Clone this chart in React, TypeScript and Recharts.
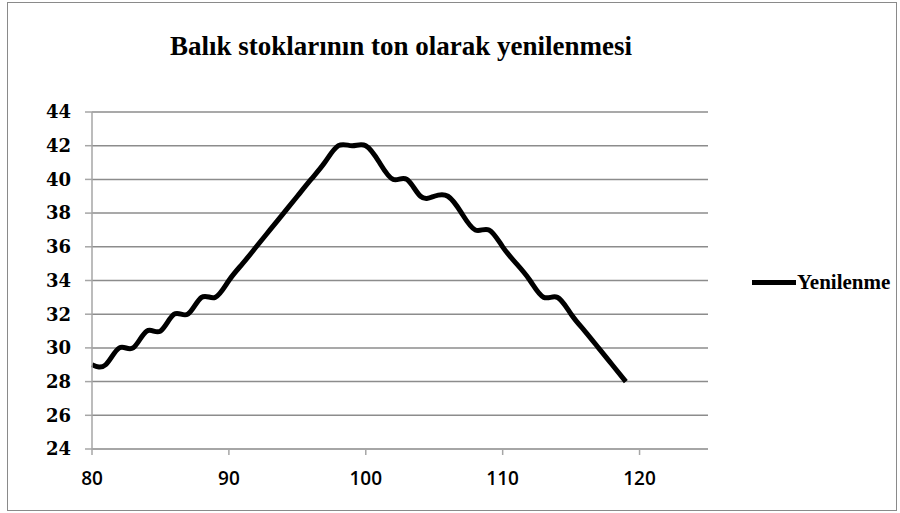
import { LineChart, Line, XAxis, YAxis, CartesianGrid } from "recharts";

const years = [
  80, 81, 82, 83, 84, 85, 86, 87, 88, 89, 90, 91, 92, 93, 94, 95, 96, 97, 98, 99,
  100, 101, 102, 103, 104, 105, 106, 107, 108, 109, 110, 111, 112, 113, 114, 115,
  116, 117, 118, 119,
];
const yenilenme = [
  29, 29, 30, 30, 31, 31, 32, 32, 33, 33, 34, 35, 36, 37, 38, 39, 40, 41, 42, 42,
  42, 41, 40, 40, 39, 39, 39, 38, 37, 37, 36, 35, 34, 33, 33, 32, 31, 30, 29, 28,
];
const xTicks = [80, 90, 100, 110, 120];
const yTicks = [24, 26, 28, 30, 32, 34, 36, 38, 40, 42, 44];

const data = years.map((x, i) => ({ x, y: yenilenme[i] }));

export default function App() {
  return (
    <div
      style={{
        position: "fixed",
        left: 0,
        top: 0,
        width: 900,
        height: 513,
        background: "#fff",
      }}
    >
      <div
        style={{
          position: "absolute",
          left: 7,
          top: 2,
          width: 890,
          height: 509,
          border: "1px solid #8a8a8a",
          boxSizing: "border-box",
        }}
      />
      <div
        style={{
          position: "absolute",
          left: 0,
          width: 802,
          top: 31,
          textAlign: "center",
          fontFamily: "'Liberation Serif', serif",
          fontWeight: "bold",
          fontSize: 27,
        }}
      >
        Balık stoklarının ton olarak yenilenmesi
      </div>
      <LineChart
        width={900}
        height={513}
        data={data}
        margin={{ top: 112, right: 192, bottom: 34, left: 32 }}
      >
        <CartesianGrid vertical={false} stroke="#8c8c8c" strokeWidth={1.5} />
        <XAxis
          dataKey="x"
          type="number"
          domain={[80, 125]}
          ticks={xTicks}
          height={30}
          tickSize={6}
          tickMargin={17}
          stroke="#a6a6a6"
          strokeWidth={1.5}
          tick={{
            fill: "#000",
            fontSize: 19,
            fontWeight: 600,
            fontFamily: "'Open Sans', sans-serif",
          }}
        />
        <YAxis
          type="number"
          domain={[24, 44]}
          ticks={yTicks}
          width={60}
          tickSize={7}
          tickMargin={14}
          stroke="#a6a6a6"
          strokeWidth={1.5}
          tick={{
            fill: "#000",
            fontSize: 18,
            fontWeight: "bold",
            fontFamily: "'DejaVu Serif', serif",
          }}
        />
        <Line
          dataKey="y"
          type="natural"
          stroke="#000"
          strokeWidth={5}
          dot={false}
          isAnimationActive={false}
        />
      </LineChart>
      <div
        style={{
          position: "absolute",
          left: 752,
          top: 270,
          display: "flex",
          alignItems: "center",
          fontFamily: "'Liberation Serif', serif",
          fontWeight: "bold",
          fontSize: 21,
        }}
      >
        <span
          style={{
            display: "inline-block",
            width: 44,
            height: 5,
            background: "#000",
            marginRight: 1,
          }}
        />
        Yenilenme
      </div>
    </div>
  );
}
